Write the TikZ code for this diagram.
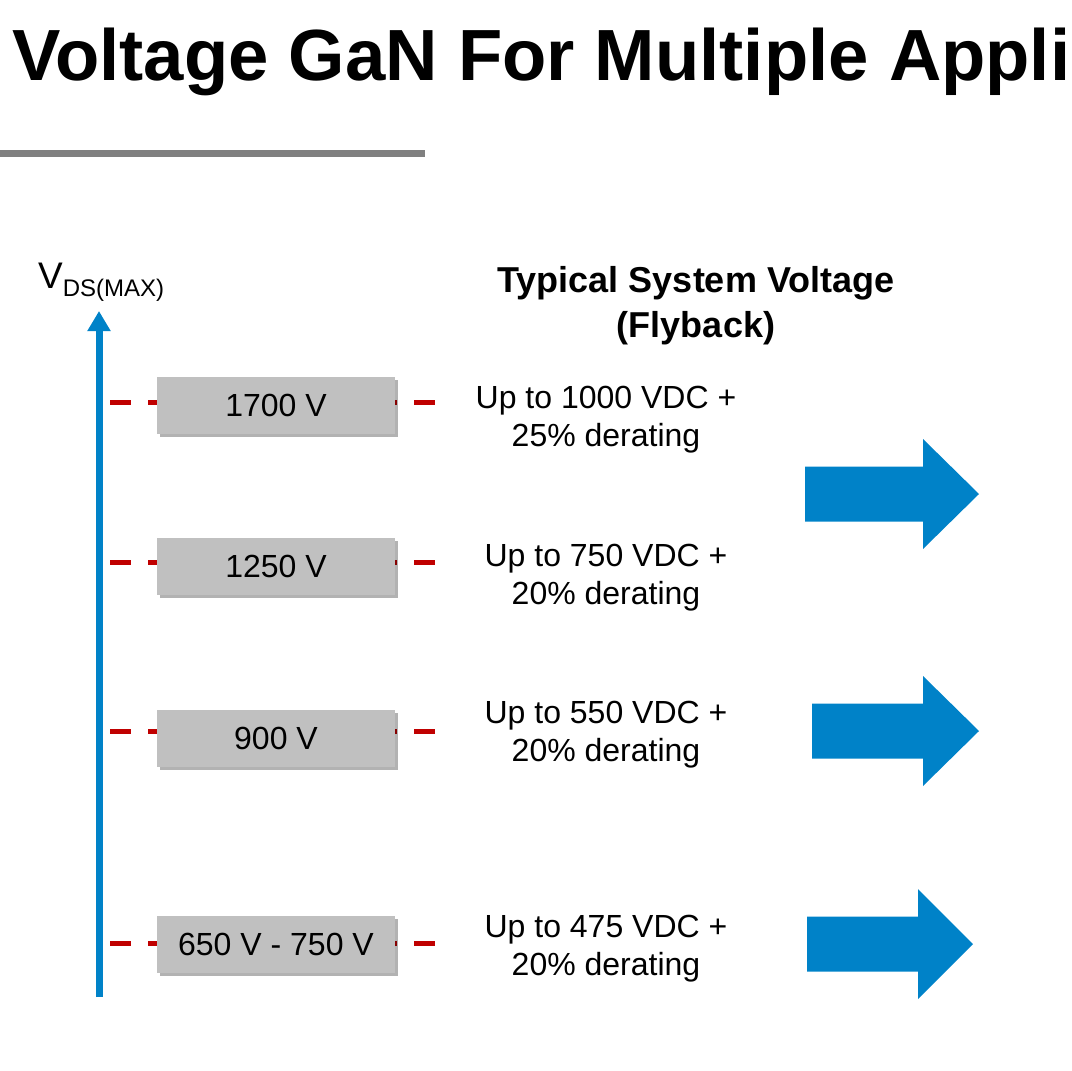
\documentclass[tikz,border=0pt]{standalone}
\usepackage{fontspec}
\setmainfont{Liberation Sans}
\usetikzlibrary{arrows.meta,shadows}
\definecolor{gnblue}{RGB}{0,130,200}
\definecolor{gndash}{RGB}{192,0,0}
\definecolor{gnbox}{RGB}{192,192,192}
\tikzset{
  vbox/.style={fill=gnbox,minimum width=238pt,minimum height=57pt,inner sep=0pt,
    font=\fontsize{32}{38}\selectfont,
    drop shadow={shadow xshift=3pt,shadow yshift=-3pt,opacity=0.3,fill=black}},
  vdash/.style={gndash,line width=5pt,dash pattern=on 21pt off 17pt},
  vtext/.style={align=center,inner sep=0pt,font=\fontsize{32}{38}\selectfont}
}
\begin{document}
\begin{tikzpicture}[x=1pt,y=-1pt]
\useasboundingbox (0,0) rectangle (1072,1071);
\node[anchor=base west,inner sep=0pt,font=\fontsize{72.5}{80}\selectfont\bfseries] (title) at (12,80) {Voltage GaN For Multiple Appli};
\draw[gray,line width=7pt] (0,153) -- (425,153);
% axis
\coordinate (axbot) at (99,997);
\coordinate (axtop) at (99,311);
\draw[gnblue,line width=7pt,-{Triangle[width=22pt,length=20pt]}] (axbot) -- (axtop);
\node[anchor=base west,inner sep=0pt] (vlabel) at (38,288) {\fontsize{37}{40}\selectfont V\raisebox{-8pt}{\fontsize{24}{26}\selectfont DS(MAX)}};
\node[vtext,font=\fontsize{36}{45}\selectfont\bfseries] (head) at (696,306) {Typical System Voltage\\(Flyback)};
% rows
\foreach \lbl/\yb/\yd/\txt/\yt [count=\i] in {1700 V/405/402/{Up to 1000 VDC +\\25\% derating}/420,
    1250 V/566/562/{Up to 750 VDC +\\20\% derating}/578,
    900 V/738/731/{Up to 550 VDC +\\20\% derating}/735,
    650 V - 750 V/944/943/{Up to 475 VDC +\\20\% derating}/949} {
  \coordinate (dl\i) at (110,\yd);
  \coordinate (dr\i) at (437,\yd);
  \draw[vdash] (dl\i) -- (dr\i);
  \node[vbox] (box\i) at (276,\yb) {\lbl};
  \node[vtext] (sys\i) at (606,\yt) {\txt};
}
% big arrows
\foreach \xa/\xb/\xc/\yc in {805/923/979/494,812/923/979/731,807/918/973/944}
  \fill[gnblue] (\xa,\yc-27.5) -- (\xb,\yc-27.5) -- (\xb,\yc-55) -- (\xc,\yc)
    -- (\xb,\yc+55) -- (\xb,\yc+27.5) -- (\xa,\yc+27.5) -- cycle;
\end{tikzpicture}
\end{document}
